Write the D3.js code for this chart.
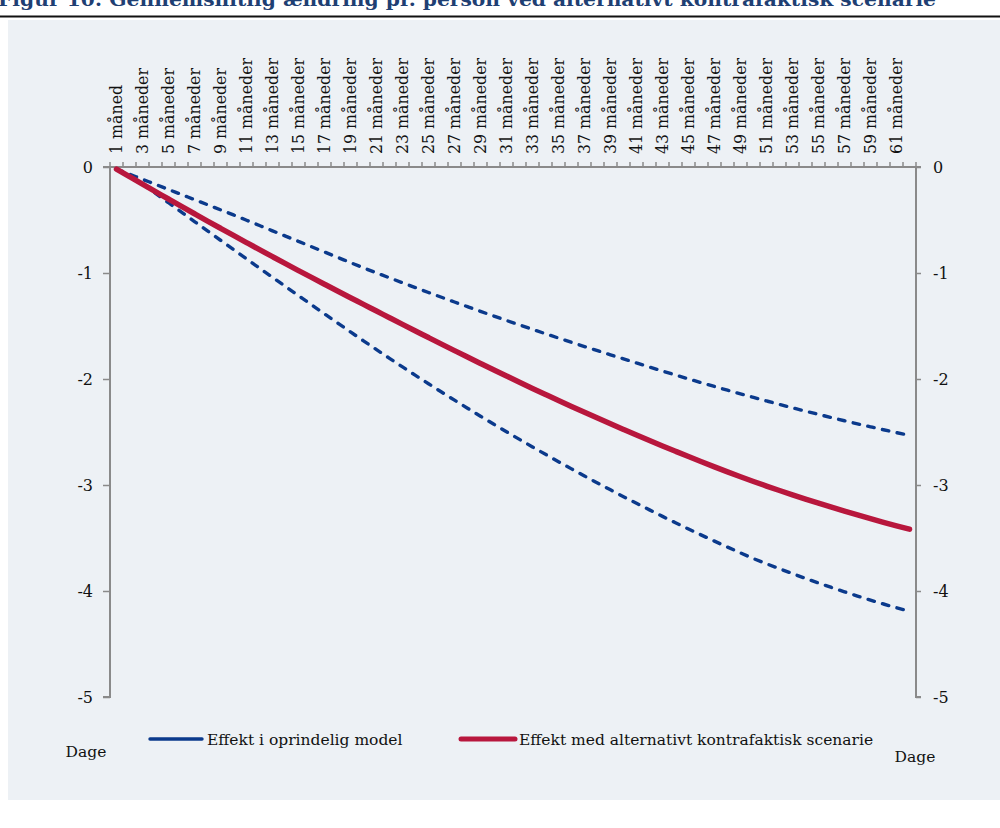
<!DOCTYPE html>
<html>
<head>
<meta charset="utf-8">
<script src="https://cdn.jsdelivr.net/npm/d3@7"></script>
<style>
  html, body { margin: 0; padding: 0; background: #ffffff; }
  svg { display: block; }
  text { font-family: "DejaVu Serif", "Liberation Serif", serif; }
</style>
</head>
<body>
<svg id="chart" width="1000" height="828"></svg>
<script>
// Category labels (months since start)
const categories = [
  "1 måned", "2 måneder", "3 måneder", "4 måneder", "5 måneder", "6 måneder",
  "7 måneder", "8 måneder", "9 måneder", "10 måneder", "11 måneder", "12 måneder",
  "13 måneder", "14 måneder", "15 måneder", "16 måneder", "17 måneder", "18 måneder",
  "19 måneder", "20 måneder", "21 måneder", "22 måneder", "23 måneder", "24 måneder",
  "25 måneder", "26 måneder", "27 måneder", "28 måneder", "29 måneder", "30 måneder",
  "31 måneder", "32 måneder", "33 måneder", "34 måneder", "35 måneder", "36 måneder",
  "37 måneder", "38 måneder", "39 måneder", "40 måneder", "41 måneder", "42 måneder",
  "43 måneder", "44 måneder", "45 måneder", "46 måneder", "47 måneder", "48 måneder",
  "49 måneder", "50 måneder", "51 måneder", "52 måneder", "53 måneder", "54 måneder",
  "55 måneder", "56 måneder", "57 måneder", "58 måneder", "59 måneder", "60 måneder",
  "61 måneder", "62 måneder"
];

// Effekt med alternativt kontrafaktisk scenarie (dage)
const alternativ = [
  -0.020, -0.091, -0.162, -0.232, -0.302, -0.372, -0.441, -0.510, -0.578, -0.646,
  -0.713, -0.780, -0.846, -0.912, -0.977, -1.042, -1.106, -1.170, -1.233, -1.296,
  -1.359, -1.422, -1.485, -1.547, -1.609, -1.671, -1.732, -1.793, -1.853, -1.913,
  -1.972, -2.031, -2.089, -2.146, -2.203, -2.259, -2.314, -2.369, -2.423, -2.476,
  -2.529, -2.581, -2.632, -2.682, -2.732, -2.781, -2.829, -2.876, -2.922, -2.967,
  -3.010, -3.052, -3.093, -3.133, -3.172, -3.210, -3.247, -3.283, -3.318, -3.352,
  -3.385, -3.417
];

// Effekt i oprindelig model, øvre grænse (dage)
const oprindeligOevre = [
  -0.020, -0.068, -0.116, -0.164, -0.212, -0.260, -0.308, -0.356, -0.404, -0.452,
  -0.502, -0.552, -0.602, -0.652, -0.702, -0.752, -0.802, -0.852, -0.902, -0.952,
  -0.999, -1.046, -1.092, -1.138, -1.184, -1.229, -1.274, -1.318, -1.362, -1.405,
  -1.448, -1.490, -1.532, -1.573, -1.614, -1.654, -1.694, -1.733, -1.772, -1.810,
  -1.849, -1.887, -1.925, -1.962, -1.999, -2.035, -2.071, -2.106, -2.140, -2.174,
  -2.207, -2.240, -2.272, -2.303, -2.334, -2.364, -2.394, -2.423, -2.451, -2.479,
  -2.506, -2.532
];

// Effekt i oprindelig model, nedre grænse (dage)
const oprindeligNedre = [
  -0.020, -0.080, -0.160, -0.248, -0.337, -0.426, -0.515, -0.603, -0.691, -0.779,
  -0.867, -0.954, -1.041, -1.128, -1.214, -1.300, -1.386, -1.471, -1.556, -1.640,
  -1.723, -1.805, -1.886, -1.966, -2.045, -2.123, -2.200, -2.276, -2.351, -2.425,
  -2.498, -2.570, -2.641, -2.711, -2.780, -2.848, -2.915, -2.981, -3.046, -3.110,
  -3.173, -3.235, -3.296, -3.356, -3.415, -3.473, -3.530, -3.586, -3.641, -3.695,
  -3.743, -3.790, -3.836, -3.881, -3.925, -3.967, -4.008, -4.048, -4.086, -4.123,
  -4.158, -4.192
];

const yTicks = [0, -1, -2, -3, -4, -5];
const legendLabels = ["Effekt i oprindelig model", "Effekt med alternativt kontrafaktisk scenarie"];
const titleText = "Figur 10: Gennemsnitlig ændring pr. person ved alternativt kontrafaktisk scenarie";
const axisTitle = "Dage";

const BLUE = "#0b3a8c";
const RED = "#b8173d";
const AXIS = "#8a8a8a";

const svg = d3.select("#chart");

// Title (runs off the top edge of the page) and rule
svg.append("text")
  .attr("x", -2).attr("y", 6)
  .attr("font-weight", "bold")
  .attr("font-size", 18)
  .attr("fill", "#1f3f73")
  .attr("textLength", 938)
  .attr("lengthAdjust", "spacingAndGlyphs")
  .text(titleText);
svg.append("line")
  .attr("x1", 0).attr("x2", 1000).attr("y1", 16.5).attr("y2", 16.5)
  .attr("stroke", "#111").attr("stroke-width", 2);

// Panel background
svg.append("rect")
  .attr("x", 8).attr("y", 20).attr("width", 992).attr("height", 780)
  .attr("fill", "#edf1f5");

// Scales
const plotLeft = 110, plotRight = 916, plotTop = 167, plotBottom = 697;
const x = d3.scaleBand().domain(categories).range([plotLeft, plotRight]).padding(0);
const y = d3.scaleLinear().domain([-5, 0]).range([plotBottom, plotTop]);
const cx = d => x(d) + x.bandwidth() / 2;
const fmt = d => String(d); // plain hyphen for negatives

// Left value axis
const gL = svg.append("g").attr("transform", `translate(${plotLeft},0)`)
  .call(d3.axisLeft(y).tickValues(yTicks).tickSize(7).tickPadding(10).tickFormat(fmt));
// Right value axis
const gR = svg.append("g").attr("transform", `translate(${plotRight},0)`)
  .call(d3.axisRight(y).tickValues(yTicks).tickSize(5).tickPadding(12).tickFormat(fmt));
[gL, gR].forEach(g => {
  g.select(".domain").attr("stroke", AXIS).attr("stroke-width", 2);
  g.selectAll(".tick line").attr("stroke", AXIS).attr("stroke-width", 1.5);
  g.selectAll(".tick text").attr("fill", "#111").attr("font-size", 16)
    .attr("font-family", "DejaVu Serif, serif");
});
gL.select(".domain").attr("d", `M-7,${plotBottom}H0V${plotTop}H-7`);
gR.select(".domain").attr("d", `M5,${plotBottom}H0V${plotTop}H5`);

// Category axis along zero with ticks at band edges
const gX = svg.append("g");
gX.append("line")
  .attr("x1", plotLeft - 7).attr("x2", plotRight + 5)
  .attr("y1", y(0)).attr("y2", y(0))
  .attr("stroke", AXIS).attr("stroke-width", 2);
const edges = categories.map(c => x(c)).concat([x(categories[categories.length - 1]) + x.bandwidth()]);
gX.selectAll("line.tk").data(edges).join("line")
  .attr("class", "tk")
  .attr("x1", d => d).attr("x2", d => d)
  .attr("y1", y(0)).attr("y2", y(0) - 5)
  .attr("stroke", AXIS).attr("stroke-width", 1.5);
gX.selectAll("text").data(categories.filter((c, i) => i % 2 === 0)).join("text")
  .attr("transform", d => `translate(${cx(d) + 5.5},${y(0) - 13}) rotate(-90)`)
  .attr("text-anchor", "start")
  .attr("font-size", 15.8)
  .attr("fill", "#111")
  .text(d => d);

// Series lines, smoothed
const line = d3.line()
  .x((d, i) => cx(categories[i]))
  .y(d => y(d))
  .curve(d3.curveBasis);

svg.append("path").datum(oprindeligOevre)
  .attr("d", line).attr("fill", "none")
  .attr("stroke", BLUE).attr("stroke-width", 3.4)
  .attr("stroke-dasharray", "6.5 8.5").attr("stroke-linecap", "round");
svg.append("path").datum(oprindeligNedre)
  .attr("d", line).attr("fill", "none")
  .attr("stroke", BLUE).attr("stroke-width", 3.4)
  .attr("stroke-dasharray", "6.5 8.5").attr("stroke-linecap", "round");
svg.append("path").datum(alternativ)
  .attr("d", line).attr("fill", "none")
  .attr("stroke", RED).attr("stroke-width", 5.5)
  .attr("stroke-linecap", "round").attr("stroke-linejoin", "round");

// Axis unit labels
svg.append("text").attr("x", 86).attr("y", 757).attr("text-anchor", "middle")
  .attr("font-size", 15.5).attr("fill", "#111").text(axisTitle);
svg.append("text").attr("x", 915).attr("y", 762).attr("text-anchor", "middle")
  .attr("font-size", 15.5).attr("fill", "#111").text(axisTitle);

// Legend
const legend = [
  { label: legendLabels[0], color: BLUE, width: 3.4, x1: 150, x2: 202, tx: 207 },
  { label: legendLabels[1], color: RED, width: 5, x1: 461, x2: 515, tx: 519 }
];
const lg = svg.append("g").selectAll("g").data(legend).join("g");
lg.append("line")
  .attr("x1", d => d.x1).attr("x2", d => d.x2).attr("y1", 739).attr("y2", 739)
  .attr("stroke", d => d.color).attr("stroke-width", d => d.width)
  .attr("stroke-linecap", "round");
lg.append("text")
  .attr("x", d => d.tx).attr("y", 745)
  .attr("font-size", 15.5).attr("fill", "#111")
  .text(d => d.label);
</script>
</body>
</html>
